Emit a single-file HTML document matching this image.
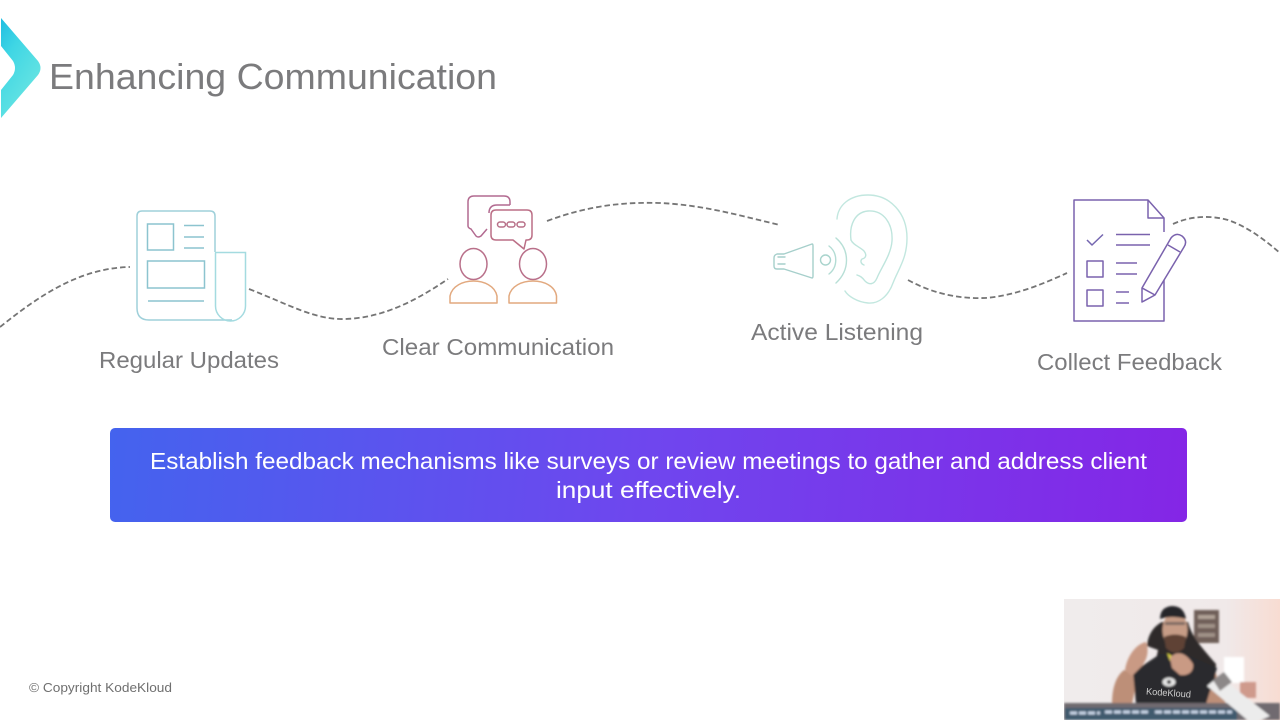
<!DOCTYPE html>
<html>
<head>
<meta charset="utf-8">
<style>
html,body{margin:0;padding:0;background:#fff;width:1280px;height:720px;overflow:hidden}
svg{display:block}
text{font-family:"Liberation Sans","DejaVu Sans",sans-serif}
</style>
</head>
<body>
<svg width="1280" height="720" viewBox="0 0 1280 720" xmlns="http://www.w3.org/2000/svg">
<defs>
<linearGradient id="logo" x1="0" y1="0" x2="0.6" y2="1">
<stop offset="0" stop-color="#1fbde2"/><stop offset="0.35" stop-color="#3fd6e4"/><stop offset="1" stop-color="#6ce6e2"/>
</linearGradient>
<linearGradient id="banner" x1="110" y1="428" x2="1187" y2="522" gradientUnits="userSpaceOnUse">
<stop offset="0" stop-color="#4463ee"/><stop offset="0.5" stop-color="#6f46ee"/><stop offset="1" stop-color="#8426e6"/>
</linearGradient>
<linearGradient id="room" x1="0" y1="0" x2="1" y2="0">
<stop offset="0" stop-color="#f0ecec"/><stop offset="0.75" stop-color="#f0e9e9"/><stop offset="1" stop-color="#f8dcd2"/>
</linearGradient>
<filter id="soft" x="-5%" y="-5%" width="110%" height="110%"><feGaussianBlur stdDeviation="1"/></filter>
<clipPath id="vid"><rect x="1064" y="599" width="216" height="121"/></clipPath>
</defs>

<rect width="1280" height="720" fill="#fff"/>

<!-- logo -->
<path d="M1 18 L38 61 Q43 68 38 75 L1 118 L1 90 L13 75 Q17 68 13 61 L1 46 Z" fill="url(#logo)"/>

<!-- title -->
<text x="49" y="89" font-size="36" fill="#7b7b7d" textLength="448" lengthAdjust="spacingAndGlyphs">Enhancing Communication</text>

<!-- dashed connectors -->
<g fill="none" stroke="#757575" stroke-width="1.8" stroke-dasharray="5.500 3">
<path d="M0 327 C40 295 80 268 130 267"/>
<path d="M249 289 C290 305 315 320 345 319 C385 318 420 298 448 279"/>
<path d="M547 221 C590 205 625 202 660 203 C705 205 745 217 780 225"/>
<path d="M908 280 C930 292 955 299 985 298 C1015 296 1045 283 1067 273"/>
<path d="M1173 224 C1190 216 1210 215 1228 220 C1248 227 1265 240 1280 253"/>
</g>

<!-- newspaper icon -->
<g fill="none" stroke="#9fd0da" stroke-width="1.5">
<path d="M215 252 V216 Q215 211 210 211 H142 Q137 211 137 216 V308 Q137 320 149 320 H232"/>
<rect x="147.500" y="224" width="26" height="26" stroke="#8cc4cf"/>
<rect x="147.500" y="261" width="57" height="27" stroke="#8cc4cf"/>
<path d="M184 225.500H204M184 237H204M184 248H204M148 301H204" stroke="#8cc4cf"/>
<path d="M215 252.500 H245.500 V306 A15 15 0 0 1 215.500 306 V252.500" stroke="#a4dbe0"/>
</g>

<!-- chat icon -->
<g fill="none" stroke-width="1.5" stroke-linejoin="round">
<path d="M510 205 V202 Q510 196 504 196 H474 Q468 196 468 202 V226 Q468 228 471 229 L476 236 Q478 238 481 236 L487 229" stroke="#b26a90"/>
<path d="M510 205 H497 Q489 205 489 213" stroke="#b26a90"/>
<path d="M496 210 H527 Q532 210 532 215 V235 Q532 240 527 240 H526 L524 249 L513 240 H496 Q491 240 491 235 V215 Q491 210 496 210 Z" stroke="#bb6f86"/>
<rect x="497.500" y="222" width="8" height="5" rx="2.500" stroke="#b87088"/>
<rect x="507" y="222" width="8" height="5" rx="2.500" stroke="#b87088"/>
<rect x="517" y="222" width="8" height="5" rx="2.500" stroke="#b87088"/>
<ellipse cx="473.500" cy="264" rx="13.500" ry="15.500" stroke="#b9708a"/>
<ellipse cx="533" cy="264" rx="13.500" ry="15.500" stroke="#b9708a"/>
<path d="M450 303 V296 C452 286 463 281 473.500 281 C484 281 495 286 497 296 V303 Z" stroke="#e2a97f"/>
<path d="M509 303 V296 C511 286 522 281 533 281 C544 281 555 286 556.500 296 V303 Z" stroke="#e2a97f"/>
</g>

<!-- ear icon -->
<g fill="none" stroke-width="1.4" stroke-linecap="round" stroke-linejoin="round">
<path d="M837 219 C838 205 850 195 868 195 C890 195 907 213 907 238 C907 258 899 268 893 283 C888 297 878 304 868 303 C857 302 848 296 845 291" stroke="#c2e7df"/>
<path d="M851 240 C849 225 855 212 868 211 C884 210 893 224 892 241 C891 255 881 268 877 278 C874 285 869 285 865 281 C862 277 860 276 857 275" stroke="#bfe5dd"/>
<path d="M851 240 C853 245 860 247 864 251 C867 255 866 258 862 259 C860 261 861 264 864 265" stroke="#bfe5dd"/>
<path d="M836 238 C850 250 850 270 836 283" stroke="#b7dfd6"/>
<path d="M829 246 C838 253 838 267 829 274" stroke="#b3dcd4"/>
<circle cx="825.500" cy="260" r="5" stroke="#a9d4cd"/>
<path d="M812 244 L784 254 H777 Q774 255 774 258 V266 Q774 269 777 269 H784 L812 278 Q813 278 813 276 V246 Q813 244 812 244 Z" stroke="#a6cfcb"/>
<path d="M778 257 H785 M778 264 H785" stroke="#a6cfcb"/>
</g>

<!-- checklist icon -->
<g fill="none" stroke="#7a62ad" stroke-width="1.5" stroke-linejoin="round">
<path d="M1164 250 V321 H1074 V200 H1148 L1164 218 V232"/>
<path d="M1148 200 V218 H1164"/>
<path d="M1087 240 L1092 245 L1103 234.500" stroke="#7466b0"/>
<path d="M1116 234.500H1150M1116 245H1150M1116 263H1137M1116 274H1137M1116 292H1129M1116 303H1129"/>
<rect x="1087" y="261" width="16" height="16"/>
<rect x="1087" y="290" width="16" height="16"/>
<path d="M1142 288 L1171 238 Q1176 232 1182 236 Q1188 241 1184 247 L1155 295 L1142 302 Z" fill="#fff"/>
<path d="M1142 288 L1155 295 M1168 245 L1180 252"/>
</g>

<!-- labels -->
<g fill="#7b7b7d" font-size="23">
<text x="99" y="368" textLength="180" lengthAdjust="spacingAndGlyphs">Regular Updates</text>
<text x="382" y="355" textLength="232" lengthAdjust="spacingAndGlyphs">Clear Communication</text>
<text x="751" y="340" textLength="172" lengthAdjust="spacingAndGlyphs">Active Listening</text>
<text x="1037" y="370" textLength="185" lengthAdjust="spacingAndGlyphs">Collect Feedback</text>
</g>

<!-- banner -->
<rect x="110" y="428" width="1077" height="94" rx="5" fill="url(#banner)"/>
<g fill="#fff" font-size="23">
<text x="150" y="469" textLength="997" lengthAdjust="spacingAndGlyphs">Establish feedback mechanisms like surveys or review meetings to gather and address client</text>
<text x="556" y="498" textLength="185" lengthAdjust="spacingAndGlyphs">input effectively.</text>
</g>

<!-- copyright -->
<text x="29" y="692" font-size="13" fill="#6f6f6f" textLength="143" lengthAdjust="spacingAndGlyphs">© Copyright KodeKloud</text>

<!-- presenter video -->
<g clip-path="url(#vid)">
<rect x="1064" y="599" width="216" height="121" fill="url(#room)"/>
<g filter="url(#soft)">
<rect x="1194" y="610" width="25" height="33" fill="#6f5f58"/>
<rect x="1198" y="615" width="17" height="4" fill="#b0a296"/>
<rect x="1198" y="624" width="17" height="4" fill="#a09288"/>
<rect x="1198" y="633" width="17" height="4" fill="#a09288"/>
<rect x="1224" y="657" width="20" height="26" fill="#fff"/>
<rect x="1240" y="682" width="16" height="16" fill="#cf9a8c"/>
<!-- arms -->
<path d="M1112 704 C1112 688 1116 676 1124 670 L1138 676 L1132 704 Z" fill="#bd8f78"/>
<path d="M1192 672 L1214 668 L1226 704 H1196 Z" fill="#bd8f78"/>
<!-- hair -->
<path d="M1147 646 C1148 634 1154 626 1162 622 H1188 C1192 638 1204 650 1216 664 L1214 690 H1150 L1158 650 Z" fill="#2e2b2c"/>
<!-- shirt -->
<path d="M1136 704 L1133 672 L1160 654 H1186 L1217 668 L1206 704 Z" fill="#2b2a2d"/>
<!-- face -->
<ellipse cx="1175" cy="630" rx="12.500" ry="18" fill="#c69c86"/>
<path d="M1164 637 Q1175 632 1186 637 L1184 648 Q1175 657 1166 648 Z" fill="#5e4236"/>
<rect x="1165" y="622" width="20" height="3" fill="#7e6a64"/>
<!-- cap -->
<path d="M1160 619 Q1160 607 1172 606 Q1184 606 1186 619 Q1172 615 1160 619 Z" fill="#26252a"/>
<path d="M1167 653 L1174 657 L1170 661 Z" fill="#d8d040"/>
<!-- hands -->
<path d="M1125 670 C1127 656 1136 644 1146 642 C1149 650 1148 660 1140 668 L1132 676 Z" fill="#c99a84"/>
<path d="M1170 658 C1176 650 1186 652 1193 664 C1194 672 1188 676 1180 675 L1172 668 Z" fill="#c99a84"/>
<ellipse cx="1169" cy="682" rx="6.500" ry="4.500" fill="#e6e6e6"/>
<circle cx="1169" cy="682" r="2" fill="#2b2a2d"/>
<rect x="1064" y="703" width="216" height="17" fill="#6f6a70"/>
<rect x="1065" y="708" width="172" height="12" fill="#3f5a6e"/>
<path d="M1070 713H1100M1105 712H1150M1155 712H1232" stroke="#c8d4e6" stroke-width="3" stroke-dasharray="7 2"/>
<path d="M1219 676 L1207 686 L1252 724 L1270 716 Z" fill="#ececec"/>
<path d="M1213 680 L1224 672 L1232 682 L1220 691 Z" fill="#8c8888"/>
</g>
<text x="1146" y="696" font-size="9.500" fill="#cfcfcf" textLength="45" lengthAdjust="spacingAndGlyphs" transform="rotate(4 1168 693)">KodeKloud</text>
</g>
</svg>
</body>
</html>
